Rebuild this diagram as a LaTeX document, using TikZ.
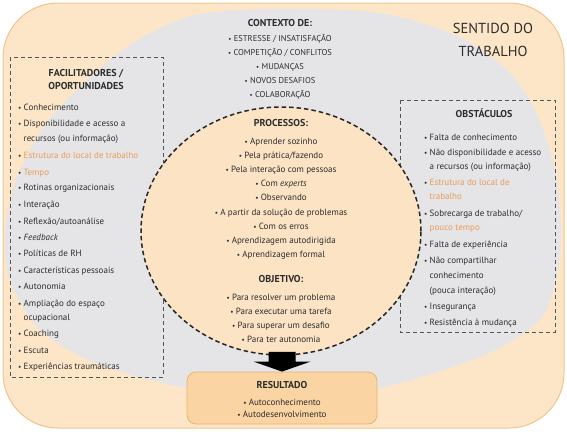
\documentclass[tikz,border=0pt]{standalone}
\usepackage{fontspec}
\setmainfont{PT Sans}
\usetikzlibrary{calc,shapes.geometric}
\definecolor{peach}{RGB}{253,230,200}
\definecolor{peachc}{RGB}{252,227,195}
\definecolor{greyf}{RGB}{229,229,231}
\definecolor{outc}{RGB}{240,195,140}
\definecolor{resf}{RGB}{250,212,162}
\definecolor{resc}{RGB}{236,178,112}
\definecolor{txtc}{RGB}{45,45,45}
\definecolor{orc}{RGB}{234,155,88}
\definecolor{boxc}{RGB}{85,85,85}
\newcommand\bul{\makebox[5.5pt][l]{\scalebox{0.8}{•}}}
\newcommand\orng[1]{\textcolor{orc}{#1}}
\begin{document}
\begin{tikzpicture}[x=1pt,y=-1pt,
  txt/.style={inner sep=0pt, text=txtc, font=\fontsize{9}{11}\selectfont},
  lt/.style={txt, anchor=base west},
  ct/.style={txt, anchor=base},
  captxt/.style={inner sep=0pt, text=txtc, anchor=base, font=\fontsize{8.5}{10}\selectfont},
  hd/.style={inner sep=0pt, text=txtc, anchor=base, font=\bfseries\fontsize{10}{12}\selectfont},
  bigtxt/.style={inner sep=0pt, text=txtc, anchor=base, font=\fontsize{14.5}{16}\selectfont},
  dbox/.style={draw=boxc, dash pattern=on 4pt off 3pt, line width=0.8pt},
  rnd/.style={rounded corners=55pt}]
\useasboundingbox (0,0) rectangle (567,431);
% outer frame
\fill[peach, rnd] (3,3) rectangle (564,428);
\begin{scope}
  \clip[rnd] (3,3) rectangle (564,428);
  \fill[greyf] plot[smooth cycle] coordinates {
    (281,9) (380,13) (455,35) (505,68) (535,110) (555,170) (561,230)
    (556,280) (538,322) (480,357) (380,388) (282,400) (187,388)
    (100,365) (40,330) (10,280) (5,230) (18,175) (45,125) (75,92)
    (112,58) (150,33) (200,14)};
\end{scope}
\draw[outc, line width=1pt, rnd] (3,3) rectangle (564,428);
% dashed boxes
\draw[dbox] (10,57) rectangle (163,377);
\draw[dbox] (400,100) rectangle (555,332);
% central circle
\node[ellipse, fill=peachc, draw=black!85, line width=1.5pt,
      dash pattern=on 4.5pt off 3pt, minimum width=280pt, minimum height=248pt,
      inner sep=0pt] (circ) at (281,231) {};
% result box
\node[draw=resc, fill=resf, rounded corners=9pt, line width=0.8pt,
      minimum width=190pt, minimum height=52pt, inner sep=0pt] (res) at (282,398) {};
% arrow
\coordinate (atop) at (res.north |- circ.south);
\fill[black] ($(atop)+(-13.5,-4)$) -- ($(atop)+(13.5,-4)$) -- ($(res.north)+(13.5,-10)$)
  -- ($(res.north)+(28.5,-10)$) -- (res.north) -- ($(res.north)+(-28.5,-10)$)
  -- ($(res.north)+(-13.5,-10)$) -- cycle;
% title
\node[bigtxt] (s1) at (493,33) {SENTIDO DO};
\node[bigtxt] (s2) at (493,56) {TRABALHO};
% context
\node[hd] (ch) at (280,27) {CONTEXTO DE:};
\node[captxt] (c1) at (280,41) {\bul ESTRESSE / INSATISFAÇÃO};
\node[captxt] (c2) at (280,55) {\bul COMPETIÇÃO / CONFLITOS};
\node[captxt] (c3) at (280,69) {\bul MUDANÇAS};
\node[captxt] (c4) at (280,83) {\bul NOVOS DESAFIOS};
\node[captxt] (c5) at (280,97) {\bul COLABORAÇÃO};
% left box
\node[hd] (fh1) at (86,76) {FACILITADORES /};
\node[hd] (fh2) at (86,89) {OPORTUNIDADES};
\node[lt] (f1) at (18,110) {\bul Conhecimento};
\node[lt] (f2) at (18,126) {\bul Disponibilidade e acesso a};
\node[lt] (f2b) at (23.5,141) {recursos (ou informação)};
\node[lt] (f3) at (18,158) {\bul \orng{Estrutura do local de trabalho}};
\node[lt] (f4) at (18,175) {\bul \orng{Tempo}};
\node[lt] (f5) at (18,190) {\bul Rotinas organizacionais};
\node[lt] (f6) at (18,207) {\bul Interação};
\node[lt] (f7) at (18,224) {\bul Reflexão/autoanálise};
\node[lt] (f8) at (18,240) {\bul \textit{Feedback}};
\node[lt] (f9) at (18,256) {\bul Políticas de RH};
\node[lt] (f10) at (18,273) {\bul Características pessoais};
\node[lt] (f11) at (18,289) {\bul Autonomia};
\node[lt] (f12) at (18,306) {\bul Ampliação do espaço};
\node[lt] (f12b) at (23.5,320) {ocupacional};
\node[lt] (f13) at (18,336) {\bul Coaching};
\node[lt] (f14) at (18,353) {\bul Escuta};
\node[lt] (f15) at (18,369) {\bul Experiências traumáticas};
% right box
\node[hd] (oh) at (484,117) {OBSTÁCULOS};
\node[lt] (o1) at (424,140) {\bul Falta de conhecimento};
\node[lt] (o2) at (424,155) {\bul Não disponibilidade e acesso};
\node[lt] (o2b) at (429.5,169) {a recursos (ou informação)};
\node[lt] (o3) at (424,185) {\bul \orng{Estrutura do local de}};
\node[lt] (o3b) at (429.5,199) {\orng{trabalho}};
\node[lt] (o4) at (424,216) {\bul Sobrecarga de trabalho/};
\node[lt] (o4b) at (429.5,230) {\orng{pouco tempo}};
\node[lt] (o5) at (424,247) {\bul Falta de experiência};
\node[lt] (o6) at (424,263) {\bul Não compartilhar};
\node[lt] (o6b) at (429.5,278) {conhecimento};
\node[lt] (o6c) at (429.5,293) {(pouca interação)};
\node[lt] (o7) at (424,309) {\bul Insegurança};
\node[lt] (o8) at (424,325) {\bul Resistência à mudança};
% processes
\node[hd] (ph) at (281,126) {PROCESSOS:};
\node[ct] (p1) at (281,144) {\bul Aprender sozinho};
\node[ct] (p2) at (281,158.2) {\bul Pela prática/fazendo};
\node[ct] (p3) at (281,172.4) {\bul Pela interação com pessoas};
\node[ct] (p4) at (281,186.6) {\bul Com \textit{experts}};
\node[ct] (p5) at (281,200.8) {\bul Observando};
\node[ct] (p6) at (281,215) {\bul A partir da solução de problemas};
\node[ct] (p7) at (281,229.2) {\bul Com os erros};
\node[ct] (p8) at (281,243.4) {\bul Aprendizagem autodirigida};
\node[ct] (p9) at (281,257.6) {\bul Aprendizagem formal};
% objective
\node[hd] (jh) at (281,282) {OBJETIVO:};
\node[ct] (j1) at (281,300) {\bul Para resolver um problema};
\node[ct] (j2) at (281,314) {\bul Para executar uma tarefa};
\node[ct] (j3) at (281,328) {\bul Para superar um desafio};
\node[ct] (j4) at (281,342) {\bul Para ter autonomia};
% result
\node[hd] (rh) at (282,388) {RESULTADO};
\node[ct] (r1) at (282,405) {\bul Autoconhecimento};
\node[ct] (r2) at (282,417.5) {\bul Autodesenvolvimento};
\end{tikzpicture}
\end{document}
